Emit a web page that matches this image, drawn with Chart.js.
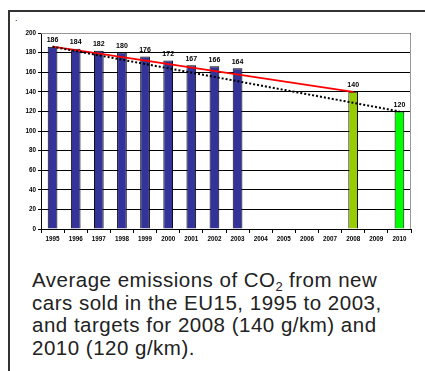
<!DOCTYPE html>
<html>
<head>
<meta charset="utf-8">
<script src="https://cdn.jsdelivr.net/npm/chart.js@4.4.1/dist/chart.umd.min.js"></script>
<style>
  html, body { margin: 0; padding: 0; background: #fff; }
  body { width: 425px; height: 371px; position: relative; overflow: hidden; font-family: "Liberation Sans", Arial, sans-serif; }
  #frame { position: absolute; left: 8px; top: 10px; width: 430px; height: 380px; border-top: 2px solid #333; border-left: 2px solid #333; }
  #dot { position: absolute; left: 15px; top: 13px; font-size: 9px; color: #000; }
  #wrap { position: absolute; left: 0; top: 0; width: 425px; height: 250px; }
  #caption { position: absolute; left: 32px; top: 269px; width: 365px; font-size: 20.5px; letter-spacing: 0.5px; line-height: 22.7px; color: #222; }
  #caption sub { font-size: 13px; line-height: 0; vertical-align: -4px; letter-spacing: 0; }
</style>
</head>
<body>
<div id="frame"></div>
<div id="dot">.</div>
<div id="wrap"><canvas id="c" width="425" height="250"></canvas></div>
<div id="caption">Average emissions of CO<sub>2</sub> from new cars sold in the EU15, 1995 to 2003, and targets for 2008 (140 g/km) and 2010 (120 g/km).</div>
<script>
// Years on the category axis
const years = ['1995','1996','1997','1998','1999','2000','2001','2002','2003','2004','2005','2006','2007','2008','2009','2010'];
// Average CO2 emissions (g/km), measured and targets
const emissions = [186, 184, 182, 180, 176, 172, 167, 166, 164, null, null, null, null, 140, null, 120];
// Bar fill per year: measured, 2008 target, 2010 target
const barColors = ['#333399','#333399','#333399','#333399','#333399','#333399','#333399','#333399','#333399', null, null, null, null, '#99CC00', null, '#00FF00'];
// Straight path towards the 2008 target
const path2008 = [186, null, null, null, null, null, null, null, null, null, null, null, null, 140, null, null];
// Straight path towards the 2010 target
const path2010 = [186, null, null, null, null, null, null, null, null, null, null, null, null, null, null, 120];
// Y axis range
const yMin = 0, yMax = 200, yStep = 20;

const valueLabels = {
  id: 'valueLabels',
  afterDatasetsDraw(chart) {
    const meta = chart.getDatasetMeta(0);
    const ctx = chart.ctx;
    ctx.save();
    ctx.font = 'bold 7px "Liberation Sans", Arial, sans-serif';
    ctx.fillStyle = '#000';
    ctx.textAlign = 'center';
    ctx.textBaseline = 'bottom';
    meta.data.forEach((bar, i) => {
      const v = emissions[i];
      if (v === null) return;
      ctx.fillText(String(v), bar.x, bar.y - 3);
    });
    ctx.restore();
  }
};

const plotBorder = {
  id: 'plotBorder',
  beforeDatasetsDraw(chart) {
    const a = chart.chartArea, ctx = chart.ctx;
    ctx.save();
    ctx.strokeStyle = '#999';
    ctx.lineWidth = 1;
    ctx.beginPath();
    ctx.moveTo(a.left, a.top + 0.5);
    ctx.lineTo(a.right - 0.5, a.top + 0.5);
    ctx.lineTo(a.right - 0.5, a.bottom);
    ctx.stroke();
    ctx.restore();
  }
};

new Chart(document.getElementById('c'), {
  data: {
    labels: years,
    datasets: [
      {
        type: 'bar',
        data: emissions,
        backgroundColor: barColors,
        borderColor: '#000',
        borderWidth: 1,
        barPercentage: 0.42,
        categoryPercentage: 1,
        order: 2
      },
      {
        type: 'line',
        data: path2008,
        borderColor: '#FF0000',
        borderWidth: 1.8,
        pointRadius: 0,
        spanGaps: true,
        tension: 0,
        order: 1
      },
      {
        type: 'line',
        data: path2010,
        borderColor: '#000',
        borderWidth: 2,
        borderDash: [2, 2],
        pointRadius: 0,
        spanGaps: true,
        tension: 0,
        order: 0
      }
    ]
  },
  options: {
    responsive: false,
    animation: false,
    layout: { padding: { top: 33, right: 14, left: 0, bottom: 0 } },
    plugins: { legend: { display: false }, tooltip: { enabled: false } },
    scales: {
      x: {
        offset: true,
        grid: { display: true, offset: true, drawOnChartArea: false, drawTicks: true, tickLength: 4, color: '#000' },
        border: { display: true, color: '#000', width: 1 },
        ticks: { color: '#000', font: { family: '"Liberation Sans", Arial, sans-serif', size: 6.3, weight: 'bold' }, maxRotation: 0, autoSkip: false, padding: 2 },
        afterFit(s) { s.height = 21; }
      },
      y: {
        min: yMin, max: yMax,
        ticks: { stepSize: yStep, color: '#000', font: { family: '"Liberation Sans", Arial, sans-serif', size: 6.3, weight: 'bold' }, padding: 2 },
        grid: { color: '#000', lineWidth: 1, tickLength: 3 },
        border: { display: true, color: '#000', width: 1 },
        afterFit(s) { s.width = 41; }
      }
    }
  },
  plugins: [plotBorder, valueLabels]
});
</script>
</body>
</html>
